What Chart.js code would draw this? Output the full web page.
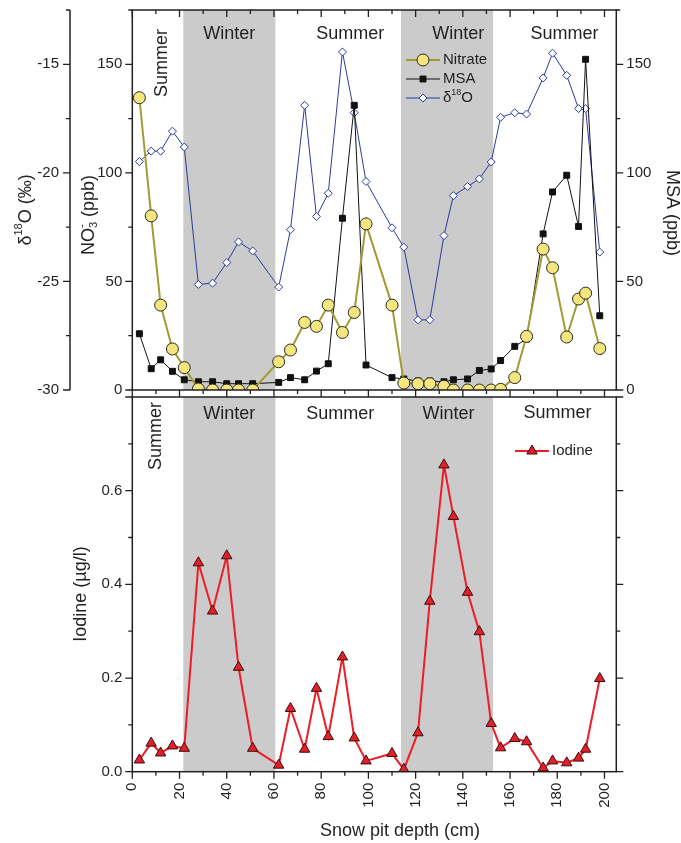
<!DOCTYPE html>
<html>
<head>
<meta charset="utf-8">
<script src="https://cdn.jsdelivr.net/npm/chart.js@4.4.1/dist/chart.umd.min.js"></script>
<style>
  body { margin: 0; background: #fff; }
  #wrap { position: relative; width: 681px; height: 843px; }
  canvas { position: absolute; left: 0; }
  #top { top: 0; z-index: 2; }
  #bottom { top: 390px; z-index: 1; }
</style>
</head>
<body>
<div id="wrap">
  <canvas id="top" width="681" height="400"></canvas>
  <canvas id="bottom" width="681" height="453"></canvas>
</div>
<script>
// snow pit depth (cm) of each sample
const depth = [3, 8, 12, 17, 22, 28, 34, 40, 45, 51, 62, 67, 73, 78, 83, 89, 94, 99, 110, 115,
               121, 126, 132, 136, 142, 147, 152, 156, 162, 167, 174, 178, 184, 189, 192, 198];

const nitrate = [134.6, 80.2, 39.1, 18.9, 10.3, 0.5, 0, 0, 0, 0, 13.0, 18.4, 31.1, 29.3, 39.1, 26.5, 35.7, 76.5, 39.1, 3.2,
                 2.9, 2.9, 1.7, 0, 0, 0, 0, 0.3, 5.7, 24.7, 64.9, 56.3, 24.4, 41.9, 44.6, 19.1];

const msa = [25.9, 9.8, 13.9, 8.6, 4.7, 3.8, 3.8, 2.9, 2.9, 2.9, 3.5, 5.7, 4.7, 8.7, 12.1, 79.1, 131.1, 11.5, 5.7, 5.1,
             4.1, 4.1, 3.8, 4.7, 5.1, 9.0, 9.7, 13.6, 20.1, 23.5, 71.9, 91.2, 98.9, 75.3, 152.3, 34.2];

const d18o = [-19.48, -19.0, -19.0, -18.08, -18.81, -25.14, -25.08, -24.13, -23.18, -23.6,
              -25.26, -22.62, -16.89, -22.01, -20.94, -14.43, -17.23, -20.4, -22.53, -23.42,
              -26.77, -26.77, -22.89, -21.05, -20.63, -20.28, -19.5, -17.44, -17.23, -17.29,
              -15.63, -14.49, -15.51, -17.04, -17.04, -23.65];

const iodine = [0.025, 0.061, 0.040, 0.055, 0.050, 0.446, 0.343, 0.461, 0.223, 0.050,
                0.014, 0.135, 0.048, 0.178, 0.075, 0.245, 0.072, 0.023, 0.039, 0.005,
                0.083, 0.364, 0.655, 0.545, 0.383, 0.299, 0.103, 0.051, 0.071, 0.064,
                0.008, 0.023, 0.019, 0.029, 0.048, 0.199];

// winter layers (cm)
const winters = [[21.6, 60.6], [113.8, 152.8]];

const depthTicks = [0, 20, 40, 60, 80, 100, 120, 140, 160, 180, 200];
const no3Ticks = [0, 50, 100, 150];
const msaTicks = [0, 50, 100, 150];
const d18oTicks = [-30, -25, -20, -15];
const iodineTicks = [0, 0.2, 0.4, 0.6];

const FONT = '"Liberation Sans", Arial, Helvetica, sans-serif';
const INK = '#231f20';

Chart.defaults.font.family = FONT;
Chart.defaults.color = INK;

const pts = ys => depth.map((x, i) => ({x, y: ys[i]}));
const fixedTicks = values => s => { s.ticks = values.map(value => ({value})); };
const fixBox = (w, h) => s => {
    if (w !== null) s.width = w;
    if (h !== null) s.height = h;
    s.paddingTop = 0; s.paddingBottom = 0; s.paddingLeft = 0; s.paddingRight = 0;
};

const noGrid = {display: false, drawTicks: false};
const noBorder = {display: false};

// ---------- drawing helpers ----------

function marks(ctx, scale, step, major, edge, dir){
    ctx.save();
    ctx.strokeStyle = INK;
    ctx.lineWidth = 1.3;
    ctx.beginPath();
    for(let i = 0; ; i++){
        const v = scale.min + i * step;
        if(v > scale.max + 1e-9) break;
        const r = v / major;
        const len = Math.abs(r - Math.round(r)) < 1e-6 ? 7 : 4;
        const p = scale.getPixelForValue(v);
        if(scale.isHorizontal()){
            ctx.moveTo(p, edge); ctx.lineTo(p, edge + dir * len);
        } else {
            ctx.moveTo(edge, p); ctx.lineTo(edge + dir * len, p);
        }
    }
    ctx.stroke();
    ctx.restore();
}

// text with superscript / subscript pieces, centred on (x, y)
function richText(ctx, parts, x, y, size, rot){
    const small = Math.round(size * 0.62);
    ctx.save();
    ctx.translate(x, y);
    ctx.rotate(rot || 0);
    ctx.fillStyle = INK;
    ctx.textBaseline = 'middle';
    ctx.textAlign = 'left';
    const widths = parts.map(p => {
        if(p.sup || p.sub){
            ctx.font = `${small}px ${FONT}`;
            return Math.max(ctx.measureText(p.sup || '').width, ctx.measureText(p.sub || '').width);
        }
        ctx.font = `${size}px ${FONT}`;
        return ctx.measureText(p.t).width;
    });
    let cx = -widths.reduce((a, b) => a + b, 0) / 2;
    parts.forEach((p, i) => {
        if(p.sup || p.sub){
            ctx.font = `${small}px ${FONT}`;
            if(p.sup) ctx.fillText(p.sup, cx, -size * 0.38);
            if(p.sub) ctx.fillText(p.sub, cx, size * 0.3);
        } else {
            ctx.font = `${size}px ${FONT}`;
            ctx.fillText(p.t, cx, 0);
        }
        cx += widths[i];
    });
    ctx.restore();
}

function legendRow(ctx, ds, x, y, parts){
    ctx.save();
    ctx.strokeStyle = ds.borderColor;
    ctx.lineWidth = ds.borderWidth;
    ctx.beginPath();
    ctx.moveTo(x, y); ctx.lineTo(x + 34, y);
    ctx.stroke();
    ctx.fillStyle = ds.pointBackgroundColor;
    ctx.strokeStyle = ds.pointBorderColor;
    ctx.lineWidth = ds.pointBorderWidth;
    Chart.helpers.drawPoint(ctx, {
        pointStyle: ds.pointStyle, radius: ds.pointRadius,
        borderWidth: ds.pointBorderWidth, rotation: 0
    }, x + 17, y);
    ctx.restore();
    ctx.save();
    ctx.font = `15px ${FONT}`;
    let w = 0;
    parts.forEach(p => {
        ctx.font = `${p.sup ? 9 : 15}px ${FONT}`;
        w += ctx.measureText(p.t || p.sup).width;
    });
    ctx.restore();
    richText(ctx, parts, x + 37 + w / 2, y, 15, 0);
}

function bands(chart){
    const {ctx, chartArea: a, scales: {x}} = chart;
    ctx.save();
    ctx.fillStyle = '#cbcbcb';
    winters.forEach(([from, to]) => {
        const l = x.getPixelForValue(from), r = x.getPixelForValue(to);
        ctx.fillRect(l, a.top, r - l, a.bottom - a.top);
    });
    ctx.restore();
}

function seasons(chart, list){
    const {ctx, scales: {x}} = chart;
    list.forEach(s => {
        richText(ctx, [{t: s.text}], x.getPixelForValue(s.at), s.y, 18, s.upright ? -Math.PI / 2 : 0);
    });
}

// ---------- upper panel: nitrate, MSA, d18O ----------

const topSeasons = [
    {text: 'Summer', at: 12.6, y: 63, upright: true},
    {text: 'Winter', at: 41.1, y: 34},
    {text: 'Summer', at: 92.3, y: 34},
    {text: 'Winter', at: 138.1, y: 34},
    {text: 'Summer', at: 183.1, y: 34}
];

const topDecor = {
    id: 'topDecor',
    beforeDatasetsDraw(chart){
        bands(chart);
        seasons(chart, topSeasons);
    },
    afterDraw(chart){
        const {ctx, chartArea: a, scales} = chart;
        ctx.save();
        ctx.strokeStyle = INK;
        ctx.lineWidth = 1.5;
        ctx.strokeRect(a.left, a.top, a.right - a.left, a.bottom - a.top);
        const dx = scales.d18o.right;
        ctx.beginPath();
        ctx.moveTo(dx, a.top); ctx.lineTo(dx, a.bottom);
        ctx.stroke();
        ctx.restore();

        marks(ctx, scales.x, 10, 20, a.top, 1);
        marks(ctx, scales.x, 10, 20, a.bottom, 1);
        marks(ctx, scales.no3, 25, 50, a.left, -1);
        marks(ctx, scales.msa, 25, 50, a.right, 1);
        marks(ctx, scales.d18o, 2.5, 5, dx, -1);

        richText(ctx, [{t: 'δ'}, {sup: '18'}, {t: 'O (‰)'}], 26, 210, 18, -Math.PI / 2);
        richText(ctx, [{t: 'NO'}, {sub: '3', sup: '-'}, {t: ' (ppb)'}], 89, 215, 18, -Math.PI / 2);
        richText(ctx, [{t: 'MSA (ppb)'}], 672, 213, 18, Math.PI / 2);

        const ds = chart.data.datasets;
        legendRow(ctx, ds[0], 406, 60, [{t: 'Nitrate'}]);
        legendRow(ctx, ds[1], 406, 79, [{t: 'MSA'}]);
        legendRow(ctx, ds[2], 406, 98, [{t: 'δ'}, {sup: '18'}, {t: 'O'}]);
    }
};

new Chart(document.getElementById('top'), {
    type: 'line',
    data: {
        datasets: [
            {
                label: 'Nitrate', data: pts(nitrate), yAxisID: 'no3', clip: 0,
                borderColor: '#a29b34', borderWidth: 2,
                pointStyle: 'circle', pointRadius: 6,
                pointBackgroundColor: '#f4e67c', pointBorderColor: '#2a2a2a', pointBorderWidth: 1
            },
            {
                label: 'MSA', data: pts(msa), yAxisID: 'msa',
                borderColor: '#111111', borderWidth: 1,
                pointStyle: 'rect', pointRadius: 4.2,
                pointBackgroundColor: '#111111', pointBorderColor: '#111111', pointBorderWidth: 1
            },
            {
                label: 'δ18O', data: pts(d18o), yAxisID: 'd18o',
                borderColor: '#2b3a9e', borderWidth: 1,
                pointStyle: 'rectRot', pointRadius: 4,
                pointBackgroundColor: '#ffffff', pointBorderColor: '#2b3a9e', pointBorderWidth: 1
            }
        ]
    },
    options: {
        responsive: false,
        animation: false,
        layout: {padding: {top: 10, left: 0, right: 0, bottom: 0}},
        plugins: {legend: {display: false}, tooltip: {enabled: false}},
        scales: {
            x: {
                type: 'linear', position: 'bottom', min: 0, max: 205,
                ticks: {display: false}, grid: noGrid, border: noBorder,
                afterFit: fixBox(null, 10)
            },
            d18o: {
                type: 'linear', position: 'left', weight: 2, min: -30, max: -12.5,
                afterBuildTicks: fixedTicks(d18oTicks),
                ticks: {font: {size: 15}, padding: 11},
                grid: noGrid, border: noBorder,
                afterFit: fixBox(70, null)
            },
            no3: {
                type: 'linear', position: 'left', weight: 1, min: 0, max: 175,
                afterBuildTicks: fixedTicks(no3Ticks),
                ticks: {font: {size: 15}, padding: 10},
                grid: noGrid, border: noBorder,
                afterFit: fixBox(62.3, null)
            },
            msa: {
                type: 'linear', position: 'right', min: 0, max: 175,
                afterBuildTicks: fixedTicks(msaTicks),
                ticks: {font: {size: 15}, padding: 10},
                grid: noGrid, border: noBorder,
                afterFit: fixBox(64.7, null)
            }
        }
    },
    plugins: [topDecor]
});

// ---------- lower panel: iodine ----------

const bottomSeasons = [
    {text: 'Summer', at: 10.1, y: 46, upright: true},
    {text: 'Winter', at: 41.1, y: 24},
    {text: 'Summer', at: 88.1, y: 24},
    {text: 'Winter', at: 133.9, y: 24},
    {text: 'Summer', at: 180.1, y: 23}
];

const bottomDecor = {
    id: 'bottomDecor',
    beforeDatasetsDraw(chart){
        bands(chart);
        seasons(chart, bottomSeasons);
    },
    afterDraw(chart){
        const {ctx, chartArea: a, scales} = chart;
        ctx.save();
        ctx.strokeStyle = INK;
        ctx.lineWidth = 1.5;
        ctx.strokeRect(a.left, a.top, a.right - a.left, a.bottom - a.top);
        ctx.restore();

        marks(ctx, scales.x, 10, 20, a.bottom, 1);
        marks(ctx, scales.y, 0.1, 0.2, a.left, -1);
        marks(ctx, scales.y2, 0.1, 0.2, a.right, 1);

        richText(ctx, [{t: 'Iodine (µg/l)'}], 81, 204, 18, -Math.PI / 2);
        richText(ctx, [{t: 'Snow pit depth (cm)'}], 400, 441, 18, 0);

        legendRow(ctx, chart.data.datasets[0], 515, 61, [{t: 'Iodine'}]);
    }
};

new Chart(document.getElementById('bottom'), {
    type: 'line',
    data: {
        datasets: [
            {
                label: 'Iodine', data: pts(iodine), yAxisID: 'y',
                borderColor: '#ee1c25', borderWidth: 2,
                pointStyle: 'triangle', pointRadius: 6,
                pointBackgroundColor: '#e3202a', pointBorderColor: '#3a0d0d', pointBorderWidth: 1
            }
        ]
    },
    options: {
        responsive: false,
        animation: false,
        layout: {padding: 0},
        plugins: {legend: {display: false}, tooltip: {enabled: false}},
        scales: {
            x: {
                type: 'linear', position: 'bottom', min: 0, max: 205,
                afterBuildTicks: fixedTicks(depthTicks),
                ticks: {font: {size: 15}, padding: 11, minRotation: 90, maxRotation: 90},
                grid: noGrid, border: noBorder,
                afterFit: fixBox(null, 71.3)
            },
            y: {
                type: 'linear', position: 'left', min: 0, max: 0.8,
                afterBuildTicks: fixedTicks(iodineTicks),
                ticks: {font: {size: 15}, padding: 10, callback: v => v.toFixed(1)},
                grid: noGrid, border: noBorder,
                afterFit: fixBox(132.3, null)
            },
            y2: {
                type: 'linear', position: 'right', min: 0, max: 0.8,
                ticks: {display: false},
                grid: noGrid, border: noBorder,
                afterFit: fixBox(64.7, null)
            }
        }
    },
    plugins: [bottomDecor]
});
</script>
</body>
</html>
